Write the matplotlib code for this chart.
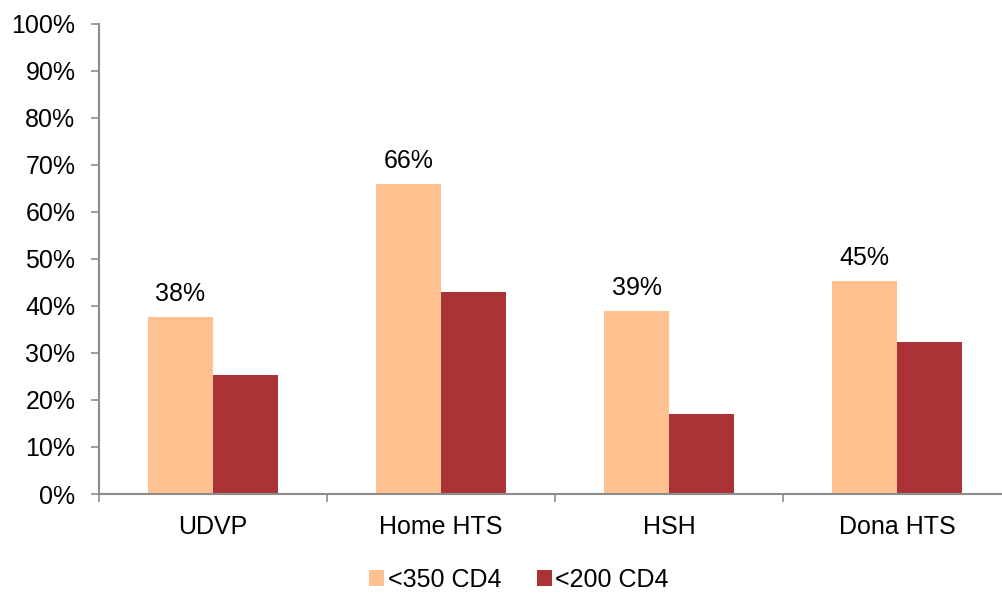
import numpy as np
import matplotlib.pyplot as plt
from matplotlib.ticker import FixedLocator, PercentFormatter

plt.rcParams['font.family'] = ['Liberation Sans', 'DejaVu Sans']

categories = ['UDVP', 'Home HTS', 'HSH', 'Dona HTS']
cd4_350 = [37.6, 65.9, 38.9, 45.3]
cd4_200 = [25.3, 42.9, 17.0, 32.2]
series_names = ['<350 CD4', '<200 CD4']

light = '#FFC18F'
dark = '#AB3335'
axis_grey = '#8C8C8C'
fs = 18

W, H = 1003, 595
fig = plt.figure(figsize=(W / 100, H / 100), dpi=100)
# axes spans group boundaries 99px .. 1011px (right end slightly past the canvas)
ax = fig.add_axes([99 / W, (H - 494) / H, (1011 - 99) / W, (494 - 23.5) / H])

x = np.arange(len(categories))
bw = 0.285
b1 = ax.bar(x - bw / 2, cd4_350, bw, color=light, label=series_names[0])
b2 = ax.bar(x + bw / 2, cd4_200, bw, color=dark, label=series_names[1])

for rect, v in zip(b1, cd4_350):
    ax.annotate(f'{v:.0f}%', (rect.get_x() + rect.get_width() / 2, v),
                xytext=(0, 8), textcoords='offset points',
                ha='center', va='bottom', fontsize=fs)

ax.set_xlim(-0.5, len(categories) - 0.5)
ax.set_ylim(0, 100)
ax.set_yticks(np.arange(0, 101, 10))
ax.yaxis.set_major_formatter(PercentFormatter(decimals=0))
ax.set_xticks(x)
ax.set_xticklabels(categories)
ax.xaxis.set_minor_locator(FixedLocator(np.arange(-0.5, len(categories), 1.0)))

ax.tick_params(axis='y', length=6, width=1.2, color=axis_grey, labelsize=fs, pad=11)
ax.tick_params(axis='x', which='major', length=0, labelsize=fs, pad=15)
ax.tick_params(axis='x', which='minor', length=6, width=1.2, color=axis_grey)

for s in ['top', 'right']:
    ax.spines[s].set_visible(False)
for s in ['left', 'bottom']:
    ax.spines[s].set_color(axis_grey)
    ax.spines[s].set_linewidth(1.5)

fig.legend(handles=[b1, b2], labels=series_names, loc='center',
           bbox_to_anchor=(519 / W, 1 - 580 / H), ncol=2, frameon=False,
           fontsize=fs, handlelength=0.6, handleheight=0.6,
           handletextpad=0.15, columnspacing=1.4)

fig.savefig('out.png', dpi=100, facecolor='white')
